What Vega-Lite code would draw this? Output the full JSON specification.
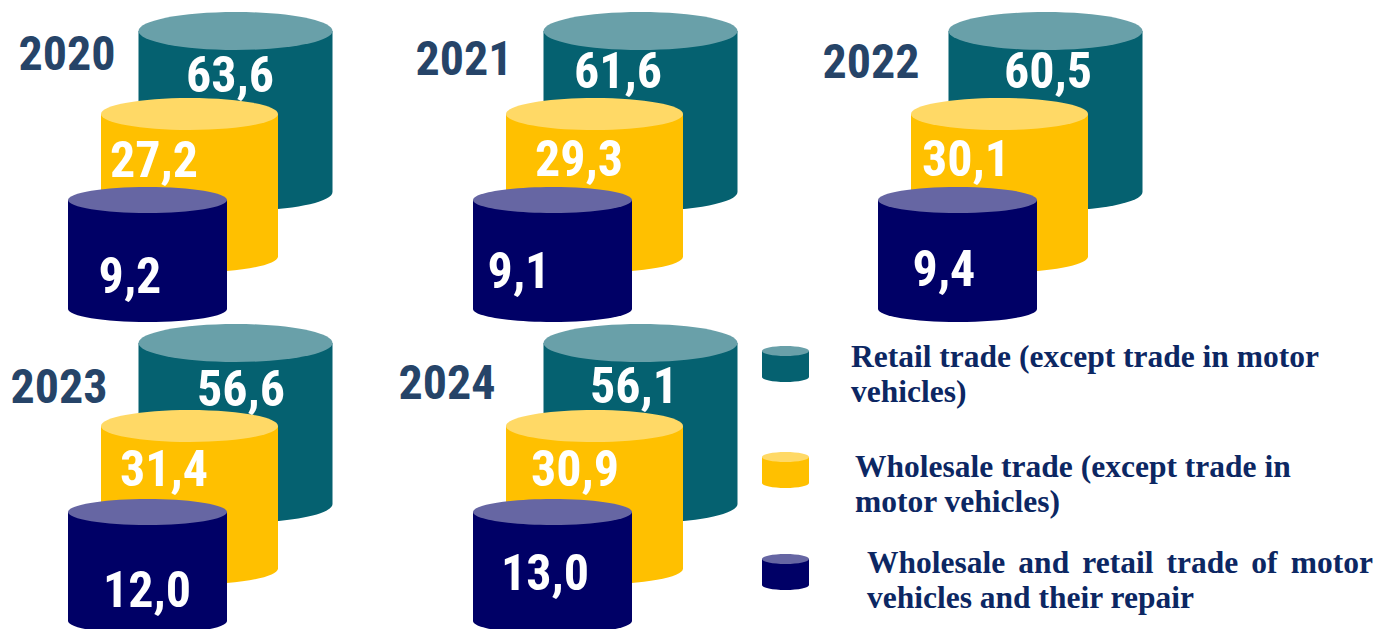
{
"$schema":"https://vega.github.io/schema/vega-lite/v6.json",
"padding":0,
"background":"white",
"params":[
{"name":"labelDx","value":{"2020":{"Retail":-5.5,"Wholesale":-37.5,"Motor":-17.5},"2021":{"Retail":-22.5,"Wholesale":-17.5,"Motor":-33.5},"2022":{"Retail":2.5,"Wholesale":-35.5,"Motor":-13.5},"2023":{"Retail":5.5,"Wholesale":-27.5,"Motor":-0.5},"2024":{"Retail":-6.5,"Wholesale":-21.5,"Motor":-7.5}}},
{"name":"labelDy","value":{"2020":{"Retail":45.5,"Wholesale":46,"Motor":77.5},"2021":{"Retail":41.5,"Wholesale":45,"Motor":72.5},"2022":{"Retail":41.5,"Wholesale":45,"Motor":70.5},"2023":{"Retail":47.5,"Wholesale":43,"Motor":80},"2024":{"Retail":44.5,"Wholesale":43,"Motor":62.5}}},
{"name":"yearDx","value":{"2020":-168.5,"2021":-176.5,"2022":-174.5,"2023":-176.5,"2024":-193.5}},
{"name":"yearDy","value":{"2020":25,"2021":30,"2022":33,"2023":46,"2024":42}}
],
"datasets":{
"rows":[
{"year":2020,"category":"Retail","value":63.6},{"year":2020,"category":"Wholesale","value":27.2},{"year":2020,"category":"Motor","value":9.2},
{"year":2021,"category":"Retail","value":61.6},{"year":2021,"category":"Wholesale","value":29.3},{"year":2021,"category":"Motor","value":9.1},
{"year":2022,"category":"Retail","value":60.5},{"year":2022,"category":"Wholesale","value":30.1},{"year":2022,"category":"Motor","value":9.4},
{"year":2023,"category":"Retail","value":56.6},{"year":2023,"category":"Wholesale","value":31.4},{"year":2023,"category":"Motor","value":12.0},
{"year":2024,"category":"Retail","value":56.1},{"year":2024,"category":"Wholesale","value":30.9},{"year":2024,"category":"Motor","value":13.0}
],
"legend":[
{"category":"Retail","label":["Retail trade (except trade in motor","vehicles)"]},
{"category":"Wholesale","label":["Wholesale trade (except trade in","motor vehicles)"]},
{"category":"Motor","label":["Wholesale \u2006and \u2006retail \u2006trade \u2006of \u2006motor","vehicles and their repair"]}
]
},
"data":{"name":"rows"},
"spacing":0,
"vconcat":[
{
"transform":[{"filter":{"field":"year","oneOf":[2020,2021,2022]}}],
"facet":{"column":{"field":"year","type":"nominal","header":null}},
"spacing":0,"bounds":"flush",
"spec":{
"width":405,"height":312,
"encoding":{
"x":{"field":"category","type":"nominal","axis":null,"scale":{"type":"point","padding":0,"domain":["Motor","Wholesale","Retail"],"range":[147.5,235.5]}},
"y":{"field":"category","type":"nominal","axis":null,"scale":{"type":"point","padding":0,"domain":["Retail","Wholesale","Motor"],"range":[31,200]}}
},
"layer":[
{"mark":{"type":"point","filled":true,"opacity":1,"size":4,"strokeWidth":0},
"encoding":{
"color":{"field":"category","type":"nominal","legend":null,"scale":{"domain":["Retail","Wholesale","Motor"],"range":["#056170","#ffc000","#000066"]}},
"shape":{"field":"category","type":"nominal","legend":null,"scale":{"domain":["Retail","Wholesale","Motor"],"range":["M-97,0 L-97,161 A97,19 0 0 0 97,161 L97,0 Z","M-90.5,-1.5 L-90.5,141 A88.5,16 0 0 0 86.5,141 L86.5,-1.5 Z","M-79.5,0 L-79.5,109 A79.5,13 0 0 0 79.5,109 L79.5,0 Z"]}}}},
{"mark":{"type":"point","filled":true,"opacity":1,"size":4,"strokeWidth":0},
"encoding":{
"color":{"field":"category","type":"nominal","legend":null,"scale":{"domain":["Retail","Wholesale","Motor"],"range":["#69a0a9","#ffd966","#6666a3"]}},
"shape":{"field":"category","type":"nominal","legend":null,"scale":{"domain":["Retail","Wholesale","Motor"],"range":["M-97,0 A97,19 0 1 1 97,0 A97,19 0 1 1 -97,0 Z","M-90.5,-1.5 A88.5,16 0 1 1 86.5,-1.5 A88.5,16 0 1 1 -90.5,-1.5 Z","M-79.5,0 A79.5,13 0 1 1 79.5,0 A79.5,13 0 1 1 -79.5,0 Z"]}}}},
{"mark":{"type":"text","font":"Roboto Condensed","fontWeight":"bold","fontSize":50,"color":"white","baseline":"middle","align":"center","dx":{"expr":"labelDx[datum.year][datum.category]"},"dy":{"expr":"labelDy[datum.year][datum.category]"}},
"encoding":{"text":{"field":"value","type":"quantitative","format":".1f"}}},
{"transform":[{"filter":"datum.category==='Retail'"}],
"mark":{"type":"text","font":"Roboto Condensed","fontWeight":"bold","fontSize":48,"color":"#264468","baseline":"middle","align":"center","dx":{"expr":"yearDx[datum.year]"},"dy":{"expr":"yearDy[datum.year]"}},
"encoding":{"text":{"field":"year","type":"nominal"}}}
],
"resolve":{"scale":{"color":"independent","shape":"independent"}}
}
},
{
"spacing":0,
"hconcat":[
{
"transform":[{"filter":{"field":"year","oneOf":[2023,2024]}}],
"facet":{"column":{"field":"year","type":"nominal","header":null}},
"spacing":60,"bounds":"flush",
"spec":{
"width":345,"height":307,
"encoding":{
"x":{"field":"category","type":"nominal","axis":null,"scale":{"type":"point","padding":0,"domain":["Motor","Wholesale","Retail"],"range":[147.5,235.5]}},
"y":{"field":"category","type":"nominal","axis":null,"scale":{"type":"point","padding":0,"domain":["Retail","Wholesale","Motor"],"range":[21,190]}}
},
"layer":[
{"mark":{"type":"point","filled":true,"opacity":1,"size":4,"strokeWidth":0},
"encoding":{
"color":{"field":"category","type":"nominal","legend":null,"scale":{"domain":["Retail","Wholesale","Motor"],"range":["#056170","#ffc000","#000066"]}},
"shape":{"field":"category","type":"nominal","legend":null,"scale":{"domain":["Retail","Wholesale","Motor"],"range":["M-97,0 L-97,161 A97,19 0 0 0 97,161 L97,0 Z","M-90.5,-1.5 L-90.5,141 A88.5,16 0 0 0 86.5,141 L86.5,-1.5 Z","M-79.5,0 L-79.5,109 A79.5,13 0 0 0 79.5,109 L79.5,0 Z"]}}}},
{"mark":{"type":"point","filled":true,"opacity":1,"size":4,"strokeWidth":0},
"encoding":{
"color":{"field":"category","type":"nominal","legend":null,"scale":{"domain":["Retail","Wholesale","Motor"],"range":["#69a0a9","#ffd966","#6666a3"]}},
"shape":{"field":"category","type":"nominal","legend":null,"scale":{"domain":["Retail","Wholesale","Motor"],"range":["M-97,0 A97,19 0 1 1 97,0 A97,19 0 1 1 -97,0 Z","M-90.5,-1.5 A88.5,16 0 1 1 86.5,-1.5 A88.5,16 0 1 1 -90.5,-1.5 Z","M-79.5,0 A79.5,13 0 1 1 79.5,0 A79.5,13 0 1 1 -79.5,0 Z"]}}}},
{"mark":{"type":"text","font":"Roboto Condensed","fontWeight":"bold","fontSize":50,"color":"white","baseline":"middle","align":"center","dx":{"expr":"labelDx[datum.year][datum.category]"},"dy":{"expr":"labelDy[datum.year][datum.category]"}},
"encoding":{"text":{"field":"value","type":"quantitative","format":".1f"}}},
{"transform":[{"filter":"datum.category==='Retail'"}],
"mark":{"type":"text","font":"Roboto Condensed","fontWeight":"bold","fontSize":48,"color":"#264468","baseline":"middle","align":"center","dx":{"expr":"yearDx[datum.year]"},"dy":{"expr":"yearDy[datum.year]"}},
"encoding":{"text":{"field":"year","type":"nominal"}}}
],
"resolve":{"scale":{"color":"independent","shape":"independent"}}
}
},
{
"width":629,"height":307,
"data":{"name":"legend"},
"encoding":{
"x":{"field":"category","type":"nominal","axis":null,"scale":{"type":"point","padding":0,"domain":["Retail","Wholesale","Motor"],"range":[101,117]}},
"y":{"field":"category","type":"nominal","axis":null,"scale":{"type":"point","padding":0,"domain":["Retail","Wholesale","Motor"],"range":[29,237]}}
},
"layer":[
{"mark":{"type":"point","filled":true,"opacity":1,"size":4,"strokeWidth":0},
"encoding":{
"color":{"field":"category","type":"nominal","legend":null,"scale":{"domain":["Retail","Wholesale","Motor"],"range":["#056170","#ffc000","#000066"]}},
"shape":{"field":"category","type":"nominal","legend":null,"scale":{"domain":["Retail","Wholesale","Motor"],"range":["M-89,0 L-89,26 A23.5,5 0 0 0 -42,26 L-42,0 Z","M-97,2 L-97,28 A23.5,5 0 0 0 -50,28 L-50,2 Z","M-105,0 L-105,26 A23.5,5 0 0 0 -58,26 L-58,0 Z"]}}}},
{"mark":{"type":"point","filled":true,"opacity":1,"size":4,"strokeWidth":0},
"encoding":{
"color":{"field":"category","type":"nominal","legend":null,"scale":{"domain":["Retail","Wholesale","Motor"],"range":["#69a0a9","#ffd966","#6666a3"]}},
"shape":{"field":"category","type":"nominal","legend":null,"scale":{"domain":["Retail","Wholesale","Motor"],"range":["M-89,0 A23.5,5 0 1 1 -42,0 A23.5,5 0 1 1 -89,0 Z","M-97,2 A23.5,5 0 1 1 -50,2 A23.5,5 0 1 1 -97,2 Z","M-105,0 A23.5,5 0 1 1 -58,0 A23.5,5 0 1 1 -105,0 Z"]}}}},
{"mark":{"type":"text","font":"Liberation Serif","fontWeight":"bold","fontSize":31.5,"lineHeight":35,"color":"#0c2763","baseline":"middle","align":"left","dx":{"expr":"{'Retail':0,'Wholesale':-4,'Motor':0}[datum.category]"},"dy":{"expr":"{'Retail':7,'Wholesale':12.5,'Motor':5}[datum.category]"}},
"encoding":{"text":{"field":"label","type":"nominal"}}}
],
"resolve":{"scale":{"color":"independent","shape":"independent"}}
}
]
}
],
"config":{"view":{"stroke":null},"locale":{"number":{"decimal":",","thousands":".","grouping":[3],"currency":["",""]}}}
}
